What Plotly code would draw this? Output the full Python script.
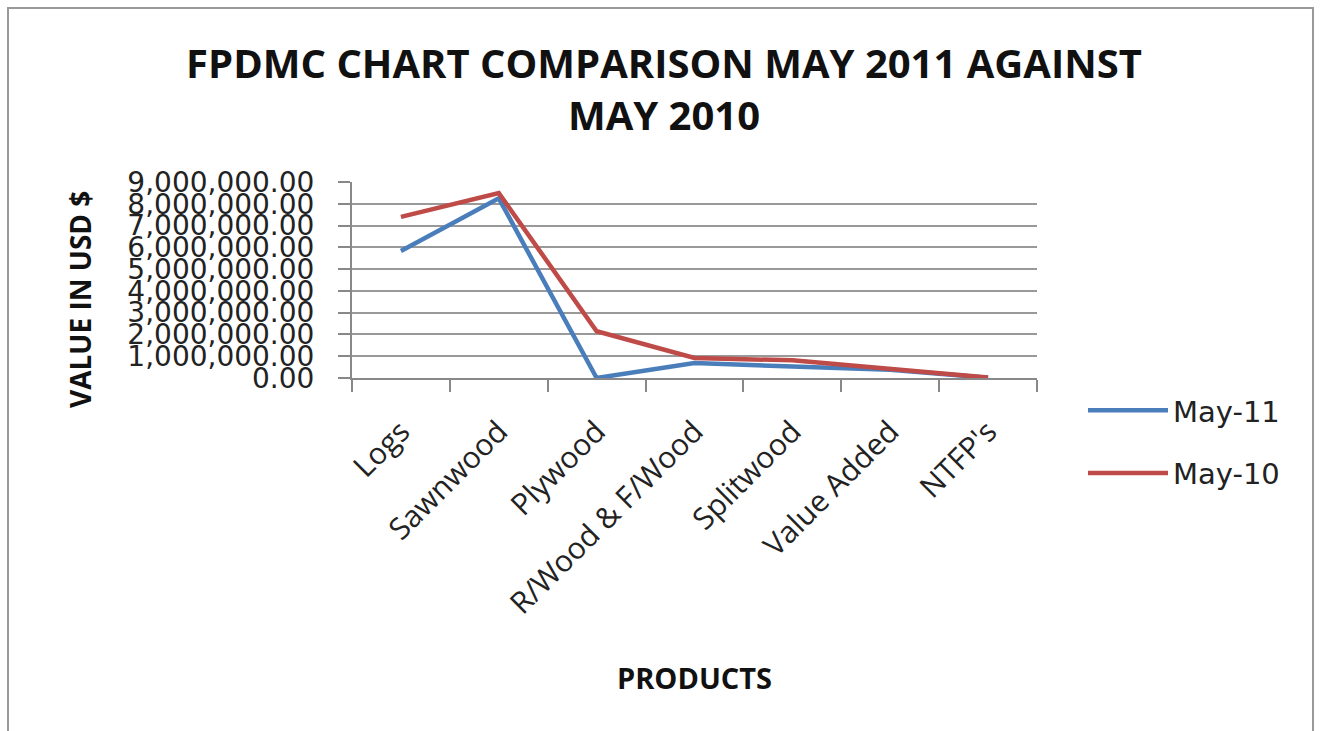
import plotly.graph_objects as go

categories = ["Logs", "Sawnwood", "Plywood", "R/Wood & F/Wood", "Splitwood", "Value Added", "NTFP's"]
may_11 = [5830000, 8250000, 0, 690000, 530000, 380000, 10000]
may_10 = [7400000, 8490000, 2150000, 920000, 810000, 410000, 20000]
series_names = ["May-11", "May-10"]
y_ticks = [0, 1000000, 2000000, 3000000, 4000000, 5000000, 6000000, 7000000, 8000000, 9000000]

fig = go.Figure()
fig.add_trace(go.Scatter(x=categories, y=may_11, mode="lines", name=series_names[0],
                         legendgroup="a", line=dict(color="#4A7EBB", width=4.5)))
fig.add_trace(go.Scatter(x=categories, y=may_10, mode="lines", name=series_names[1],
                         legendgroup="b", line=dict(color="#BE4B48", width=4.5)))

L, R, T, B = 352, 283, 182, 353
W, H = 1320, 731
pw = W - L - R
ph = H - T - B

def px_x(p):
    return (p - L) / pw

def px_y(p):
    return (H - B - p) / ph

fig.update_layout(
    width=W, height=H,
    margin=dict(l=L, r=R, t=T, b=B),
    paper_bgcolor="white", plot_bgcolor="white",
    font=dict(family="DejaVu Sans", color="#222222"),
    title=dict(text="<b>FPDMC CHART COMPARISON MAY 2011 AGAINST<br>MAY 2010</b>",
               x=px_x(664), xanchor="center", xref="paper", y=1 - 78 / H, yanchor="middle",
               font=dict(family="Open Sans", size=40, color="#111111")),
    showlegend=True,
    legend=dict(x=px_x(1083), y=px_y(385), xanchor="left", yanchor="top",
                font=dict(family="DejaVu Sans", size=29, color="#222222"),
                tracegroupgap=22, itemwidth=80, bgcolor="rgba(0,0,0,0)"),
    xaxis=dict(
        type="category", range=[-0.5, 6.5], tickson="boundaries",
        showgrid=False, showline=True, linecolor="#888888", linewidth=2,
        ticks="outside", ticklen=12, tickcolor="#888888", tickwidth=2,
        tickangle=-45, ticklabelstandoff=22,
        tickfont=dict(family="Open Sans", size=30, color="#222222"),
    ),
    yaxis=dict(
        range=[0, 9000000], tickvals=y_ticks, tickformat=",.2f",
        showgrid=True, gridcolor="#999999", gridwidth=2,
        showline=True, linecolor="#888888", linewidth=2,
        ticks="outside", ticklen=12, tickcolor="#888888", tickwidth=2,
        ticklabelstandoff=18,
        tickfont=dict(family="DejaVu Sans", size=28, color="#222222"),
        zeroline=False,
    ),
    annotations=[
        dict(text="<b>VALUE IN USD $</b>", textangle=-90, xref="paper", yref="paper",
             x=px_x(80), y=px_y(300), xanchor="center", yanchor="middle", showarrow=False,
             font=dict(family="Open Sans", size=28, color="#111111")),
        dict(text="<b>PRODUCTS</b>", xref="paper", yref="paper",
             x=px_x(694), y=px_y(677), xanchor="center", yanchor="middle", showarrow=False,
             font=dict(family="Open Sans", size=29, color="#111111")),
    ],
    shapes=[dict(type="rect", xref="paper", yref="paper",
                 x0=px_x(8), x1=px_x(1313), y0=px_y(760), y1=px_y(8),
                 line=dict(color="#999999", width=2), fillcolor="rgba(0,0,0,0)",
                 layer="below")],
)

fig.write_html("out.html")
